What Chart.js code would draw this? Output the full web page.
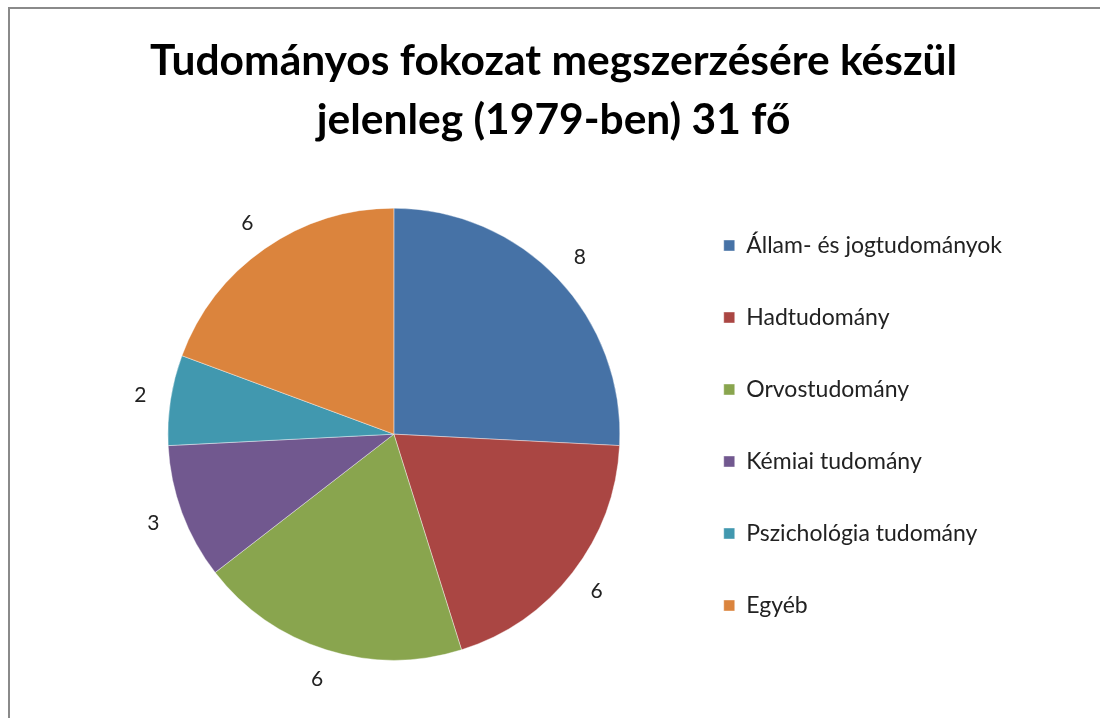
<!DOCTYPE html>
<html>
<head>
<meta charset="utf-8">
<script src="https://cdn.jsdelivr.net/npm/chart.js@4"></script>
<style>
  body { margin: 0; background: #fff; overflow: hidden; }
  #wrap { position: relative; width: 1100px; height: 718px; }
  #frame {
    position: absolute; left: 8px; top: 7px; width: 1200px; height: 800px;
    border-left: 2px solid #8a8a8a; border-top: 2px solid #8a8a8a;
  }
  canvas { position: absolute; left: 0; top: 0; }
</style>
</head>
<body>
<div id="wrap">
  <div id="frame"></div>
  <canvas id="pieChart" width="1100" height="718"></canvas>
</div>
<script>
const categories = [
  'Állam- és jogtudományok',
  'Hadtudomány',
  'Orvostudomány',
  'Kémiai tudomány',
  'Pszichológia tudomány',
  'Egyéb',
];
const counts = [8, 6, 6, 3, 2, 6];
const sliceColors = ['#4672a6', '#aa4643', '#89a54e', '#71588f', '#4198af', '#db843d'];
const titleLines = ['Tudományos fokozat megszerzésére készül', 'jelenleg (1979-ben) 31 fő'];

// values drawn just outside each slice
const outsideLabels = {
  id: 'outsideLabels',
  afterLayout(chart) {
    // title sits a little left of the plot+legend centre in the original
    chart.titleBlock.left -= 9;
    chart.titleBlock.right -= 9;
  },
  afterDatasetsDraw(chart) {
    const ctx = chart.ctx;
    const meta = chart.getDatasetMeta(0);
    ctx.save();
    ctx.font = '21px Lato';
    ctx.fillStyle = '#222';
    ctx.textAlign = 'center';
    ctx.textBaseline = 'middle';
    meta.data.forEach((arc, i) => {
      const mid = (arc.startAngle + arc.endAngle) / 2;
      const r = arc.outerRadius * 1.135;
      ctx.fillText(String(counts[i]), arc.x + Math.cos(mid) * r, arc.y + Math.sin(mid) * r);
    });
    ctx.restore();
  },
};

const config = {
  type: 'pie',
  data: {
    labels: categories,
    datasets: [
      {
        data: counts,
        backgroundColor: sliceColors,
        borderColor: 'rgba(255,255,255,0.4)',
        borderWidth: 1,
        radius: 226,
      },
    ],
  },
  options: {
    responsive: false,
    animation: false,
    layout: {
      padding: { left: 113, right: 88, bottom: 52, top: 0 },
    },
    plugins: {
      title: {
        display: true,
        text: titleLines,
        color: '#000',
        font: { family: 'Lato', size: 42.5, weight: 'bold', lineHeight: 1.38 },
        padding: { top: 32, bottom: 53 },
      },
      legend: {
        position: 'right',
        align: 'end',
        labels: {
          font: { family: 'Lato', size: 23 },
          color: '#222',
          boxWidth: 11,
          boxHeight: 11,
          padding: 49,
        },
      },
      tooltip: { enabled: false },
    },
  },
  plugins: [outsideLabels],
};

const myChart = new Chart(document.getElementById('pieChart'), config);
</script>
</body>
</html>
